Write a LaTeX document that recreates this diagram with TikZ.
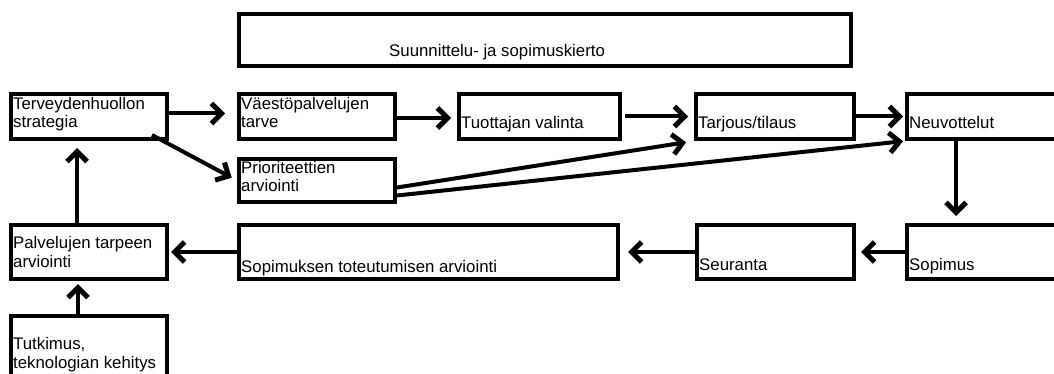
\documentclass[tikz,border=0pt]{standalone}
\usepackage{fontspec}
\setmainfont{Liberation Sans}
\usetikzlibrary{arrows.meta}

\tikzset{
  blk/.style={draw, line width=4pt, rectangle, minimum width=156pt, minimum height=45pt, inner sep=0pt},
  txt/.style={inner sep=0pt, anchor=base west, align=left, font=\fontsize{16.8}{18.5}\selectfont},
  arr/.style={line width=4pt, -{Straight Barb[length=10pt,width=20pt,line width=5pt]}}
}

\begin{document}
\begin{tikzpicture}[x=1pt,y=-1pt]
  \useasboundingbox (0,0) rectangle (1054,374);
  % boxes
  \node[blk, minimum width=612pt, minimum height=52pt] (kierto) at (545,40) {};
  \node[blk] (terv) at (89,116.5) {};
  \node[blk] (vaesto) at (317,116.5) {};
  \node[blk, minimum width=161pt] (tuott) at (539.5,116.5) {};
  \node[blk, minimum width=158pt] (tarj) at (775,116.5) {};
  \node[blk, minimum width=163pt] (neuv) at (988.5,116.5) {};
  \node[blk, minimum height=43pt] (prior) at (317,180.5) {};
  \node[blk, minimum height=54pt] (palv) at (89,252) {};
  \node[blk, minimum width=379pt, minimum height=54pt] (sopt) at (428.5,252) {};
  \node[blk, minimum width=157pt, minimum height=54pt] (seur) at (775.5,252) {};
  \node[blk, minimum width=163pt, minimum height=54pt] (sopim) at (988.5,252) {};
  \node[blk, minimum height=84pt] (tutk) at (89,358) {};
  % texts (base = last line)
  \node[txt] (kiertoT) at (389,57) {Suunnittelu- ja sopimuskierto};
  \node[txt] (tervT) at (13,128) {Terveydenhuollon\\strategia};
  \node[txt] (vaestoT) at (241,128) {Väestöpalvelujen\\tarve};
  \node[txt] (tuottT) at (461,129) {Tuottajan valinta};
  \node[txt] (tarjT) at (698,129) {Tarjous/tilaus};
  \node[txt] (neuvT) at (909,129) {Neuvottelut};
  \node[txt] (priorT) at (241,192) {Prioriteettien\\arviointi};
  \node[txt] (palvT) at (13,267) {Palvelujen tarpeen\\arviointi};
  \node[txt] (soptT) at (241,272) {Sopimuksen toteutumisen arviointi};
  \node[txt] (seurT) at (699,270) {Seuranta};
  \node[txt] (sopimT) at (909,270) {Sopimus};
  \node[txt] (tutkT) at (13,368) {Tutkimus,\\teknologian kehitys};
  % arrows
  \draw[arr, shorten >=12pt] ([yshift=3pt]terv.east) -- ([yshift=3pt]vaesto.west);
  \draw[arr, shorten >=6pt] ([yshift=-1.5pt]vaesto.east) -- ([yshift=-1.5pt]tuott.west);
  \draw[arr, shorten <=3pt, shorten >=6pt] (tuott.east) -- (tarj.west);
  \draw[arr, shorten <=-3pt, shorten >=2pt] (tarj.east) -- (neuv.west);
  \draw[arr, shorten >=6pt] ([xshift=-17pt,yshift=6pt]terv.south east) -- (prior.west);
  \draw[arr, shorten >=8pt] ([yshift=-7pt]prior.east) -- (tarj.south west);
  \draw[arr, shorten >=2pt] ([yshift=-15pt]prior.east) -- (neuv.south west);
  \draw[arr, shorten >=7pt] ([xshift=51pt]neuv.south west) -- ([xshift=51pt]sopim.north west);
  \draw[arr, shorten >=5pt] (sopim.west) -- (seur.east);
  \draw[arr, shorten >=8pt] (seur.west) -- (sopt.east);
  \draw[arr, shorten >=2pt] (sopt.west) -- (palv.east);
  \draw[arr, shorten >=7pt] ([xshift=-12pt]palv.north) -- ([xshift=-12pt]terv.south);
  \draw[arr, shorten >=3pt] ([xshift=-11pt]tutk.north) -- ([xshift=-11pt]palv.south);
\end{tikzpicture}
\end{document}
